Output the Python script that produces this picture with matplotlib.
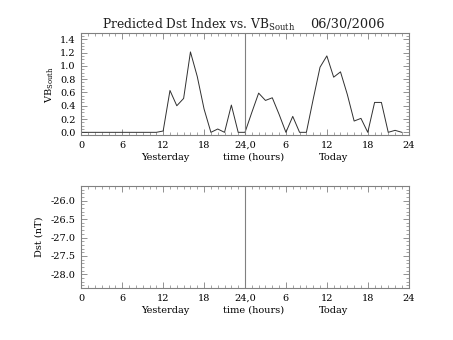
import matplotlib
matplotlib.use('Agg')
from matplotlib import pyplot as plt
from matplotlib.ticker import MultipleLocator, FixedLocator, FormatStrFormatter

plt.rcParams['font.family'] = ['DejaVu Serif']
plt.rcParams['mathtext.fontset'] = 'dejavuserif'

# hourly VB_south, yesterday 0h .. today 23h
hours = list(range(48))
vb_south = [0, 0, 0, 0, 0, 0, 0, 0, 0, 0, 0, 0,
            0.02, 0.63, 0.40, 0.51, 1.21, 0.84, 0.35, 0.0, 0.05, 0.0, 0.41, 0.0,
            0.0, 0.30, 0.59, 0.48, 0.52, 0.27, 0.0, 0.24, 0.0, 0.0, 0.50, 0.98,
            1.15, 0.83, 0.91, 0.57, 0.17, 0.21, 0.0, 0.45, 0.45, 0.0, 0.03, 0.0]

tick_pos = [0, 6, 12, 18, 24, 30, 36, 42, 48]
tick_labels = ['0', '6', '12', '18', '24,0', '6', '12', '18', '24']
day_labels = [(12.3, 'Yesterday'), (25.2, 'time (hours)'), (37.0, 'Today')]

frame_col = '#808080'
line_col = '#303030'


def setup_time_axis(ax):
    ax.set_xlim(0, 48)
    ax.xaxis.set_major_locator(FixedLocator(tick_pos))
    ax.set_xticklabels(tick_labels)
    ax.xaxis.set_minor_locator(MultipleLocator(1))
    ax.tick_params(which='both', direction='in', top=True, right=True,
                   color=frame_col, labelsize=7)
    ax.tick_params(which='major', length=4, width=0.6, pad=4)
    ax.tick_params(which='minor', length=2, width=0.5)
    for s in ax.spines.values():
        s.set_color(frame_col)
        s.set_linewidth(0.8)
    for x, lab in day_labels:
        ax.text(x, -0.215, lab, transform=ax.get_xaxis_transform(),
                ha='center', va='center', fontsize=7)
    ax.axvline(24, color=frame_col, lw=0.8)


fig = plt.figure(figsize=(4.53, 3.4), dpi=100)

# VB south panel
ax = fig.add_axes([0.1795, 0.602, 0.7227, 0.300])
ax.plot(hours, vb_south, color=line_col, lw=0.7)
ax.set_ylim(-0.045, 1.49)
ax.yaxis.set_major_locator(MultipleLocator(0.2))
ax.yaxis.set_minor_locator(MultipleLocator(0.05))
ax.yaxis.set_major_formatter(FormatStrFormatter('%.1f'))
setup_time_axis(ax)
ax.set_ylabel('VB$_{\\mathrm{South}}$', fontsize=7, labelpad=3)

fig.text(0.653, 0.928, 'Predicted Dst Index vs. VB$_{\\mathrm{South}}$', ha='right',
         va='center', fontsize=8.8, color='#202020')
fig.text(0.848, 0.928, '06/30/2006', ha='right', va='center', fontsize=9.3,
         color='#202020')

# Dst panel (no data)
ax2 = fig.add_axes([0.1795, 0.152, 0.7227, 0.301])
ax2.set_ylim(-28.38, -25.60)
ax2.yaxis.set_major_locator(MultipleLocator(0.5))
ax2.yaxis.set_minor_locator(MultipleLocator(0.1))
ax2.yaxis.set_major_formatter(FormatStrFormatter('%.1f'))
setup_time_axis(ax2)
ax2.set_ylabel('Dst (nT)', fontsize=7, labelpad=5)

fig.savefig('out.png', dpi=100)
